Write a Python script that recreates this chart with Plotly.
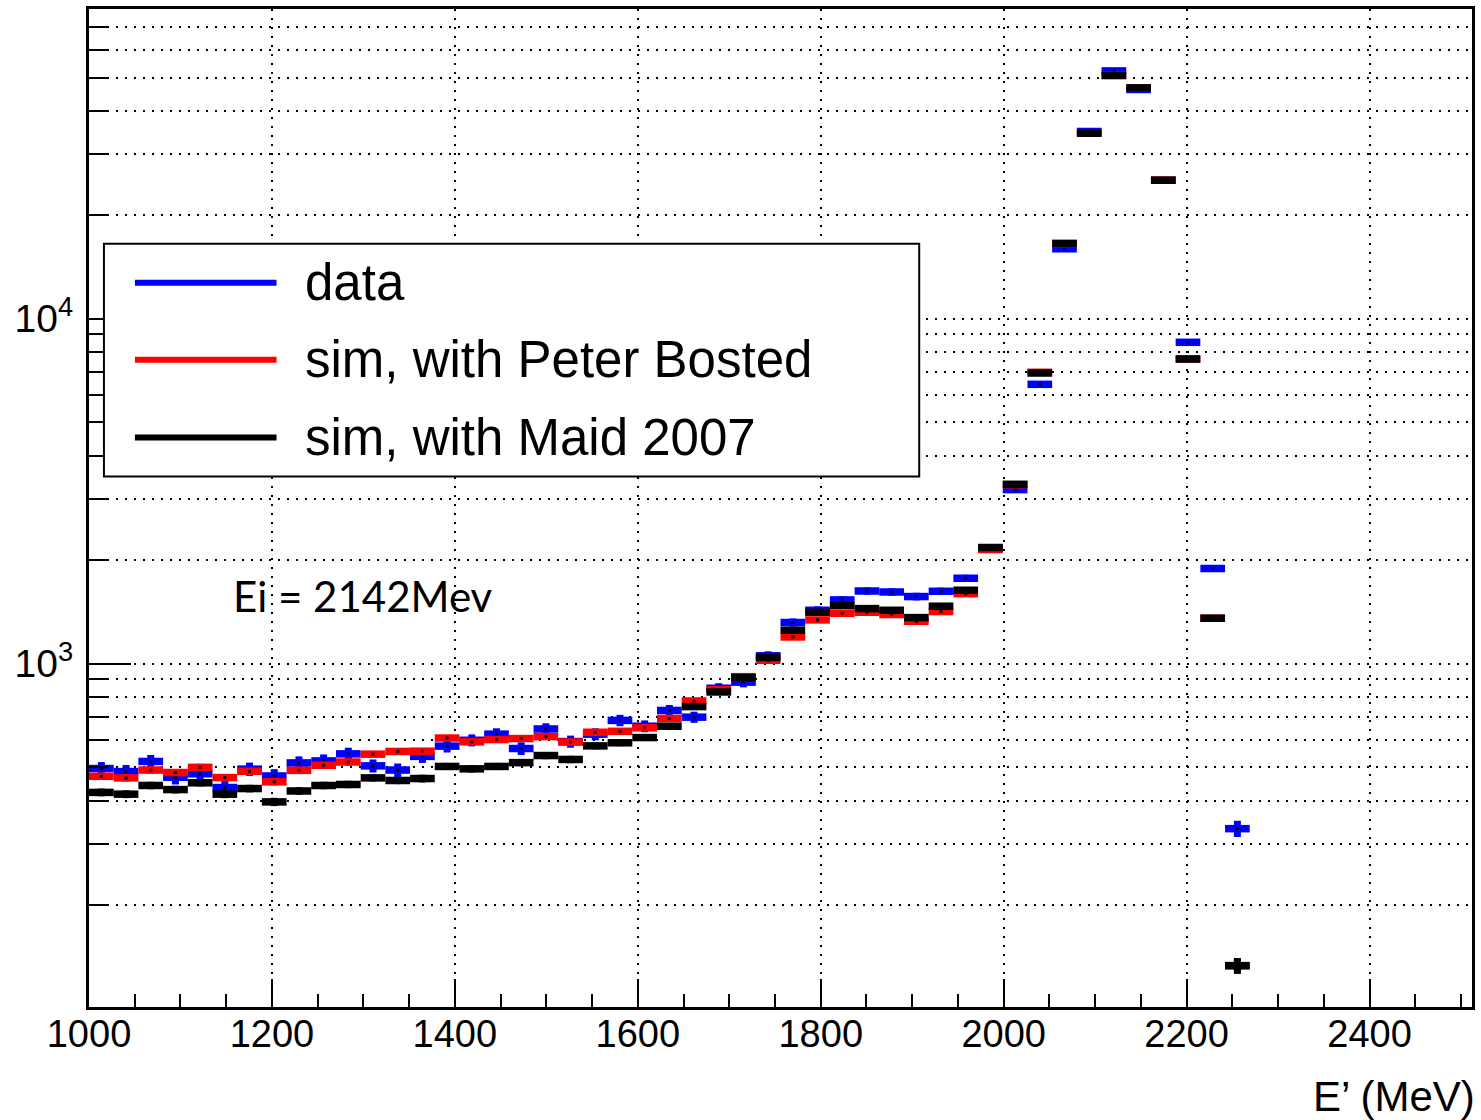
import plotly.graph_objects as go

# Bin centres (MeV), bin width 27 MeV, histogram from 1000 to 2512 MeV
E_centers = [1013.5, 1040.5, 1067.5, 1094.5, 1121.5, 1148.5, 1175.5, 1202.5, 1229.5, 1256.5,
             1283.5, 1310.5, 1337.5, 1364.5, 1391.5, 1418.5, 1445.5, 1472.5, 1499.5, 1526.5,
             1553.5, 1580.5, 1607.5, 1634.5, 1661.5, 1688.5, 1715.5, 1742.5, 1769.5, 1796.5,
             1823.5, 1850.5, 1877.5, 1904.5, 1931.5, 1958.5, 1985.5, 2012.5, 2039.5, 2066.5,
             2093.5, 2120.5, 2147.5, 2174.5, 2201.5, 2228.5, 2255.5]
bin_half_width = 13.5

data_vals = [496, 486, 520, 468, 479, 437, 494, 472, 515, 522,
             547, 505, 491, 538, 576, 599, 624, 567, 646, 594,
             624, 684, 658, 731, 699, 848, 883, 1053, 1315, 1427,
             1529, 1623, 1612, 1564, 1620, 1767, 2160, 3194, 6451, 15950,
             34900, 52300, 46200, 25200, 8540, 1886, 332]
data_err = [22, 22, 23, 22, 22, 21, 22, 22, 23, 23,
            23, 22, 22, 23, 24, 24, 25, 24, 25, 24,
            25, 26, 26, 27, 26, 29, 30, 32, 36, 38,
            39, 40, 40, 40, 40, 42, 46, 57, 80, 126,
            187, 229, 215, 159, 92, 43, 18]

bosted_vals = [471, 466, 491, 483, 500, 467, 487, 454, 490, 507,
               518, 546, 556, 557, 608, 593, 602, 606, 614, 592,
               632, 636, 651, 693, 779, 840, 916, 1022, 1194, 1338,
               1399, 1408, 1387, 1326, 1415, 1595, 2140, 3300, 6990, 16500,
               34500, 50800, 46600, 25200, 7640, 1353, 133]
bosted_err = [11, 11, 12, 11, 12, 11, 12, 11, 12, 12,
              12, 12, 12, 12, 13, 13, 13, 13, 13, 13,
              13, 14, 14, 14, 15, 16, 17, 18, 19, 20,
              20, 21, 20, 20, 21, 22, 25, 31, 46, 70,
              102, 123, 118, 87, 48, 20, 7]

maid_vals = [423, 418, 443, 431, 451, 418, 434, 397, 427, 443,
             446, 466, 458, 464, 503, 495, 503, 516, 541, 527,
             577, 589, 610, 658, 750, 827, 911, 1041, 1249, 1408,
             1473, 1443, 1427, 1359, 1466, 1631, 2170, 3309, 6957, 16530,
             34500, 50700, 46700, 25200, 7640, 1353, 133]
maid_err = [11, 11, 11, 11, 11, 11, 11, 11, 11, 11,
            11, 11, 11, 12, 12, 12, 12, 12, 13, 13,
            13, 13, 14, 14, 15, 16, 17, 18, 19, 21,
            21, 21, 21, 20, 21, 22, 26, 31, 46, 70,
            102, 123, 118, 87, 48, 20, 7]

series_names = ["data", "sim, with Peter Bosted", "sim, with Maid 2007"]
series_colors = ["#0000ff", "#ff0000", "#000000"]
x_tick_vals = [1000, 1200, 1400, 1600, 1800, 2000, 2200, 2400]
y_major_vals = [1000, 10000]
y_major_text = ["10<sup>3</sup>", "10<sup>4</sup>"]
y_minor_vals = [200, 300, 400, 500, 600, 700, 800, 900,
                2000, 3000, 4000, 5000, 6000, 7000, 8000, 9000,
                20000, 30000, 40000, 50000, 60000, 70000]

FONT = "Liberation Sans, Arial, Helvetica, sans-serif"
GRID_DASH = "2px,7px"

fig = go.Figure()
for vals, errs, name, col in zip([data_vals, bosted_vals, maid_vals],
                                 [data_err, bosted_err, maid_err],
                                 series_names, series_colors):
    fig.add_trace(go.Scatter(
        x=E_centers, y=vals, mode="markers", name=name, showlegend=False,
        marker=dict(symbol="square", size=3, color="black", line=dict(width=0)),
        error_x=dict(type="constant", value=bin_half_width, color=col, thickness=7.5, width=0),
        error_y=dict(type="data", array=errs, color=col, thickness=7, width=0),
    ))

fig.update_layout(
    width=1481, height=1120, autosize=False,
    margin=dict(l=89, r=6, t=8, b=113),
    paper_bgcolor="white", plot_bgcolor="white",
    font=dict(family=FONT, color="black"),
    xaxis=dict(
        range=[1000, 2512], tickmode="array", tickvals=x_tick_vals,
        ticks="inside", ticklen=28, tickwidth=1.5, tickcolor="black",
        showline=True, linewidth=3, linecolor="black", mirror=True,
        showgrid=True, gridcolor="black", gridwidth=2, griddash=GRID_DASH,
        zeroline=False, tickfont=dict(size=38, family=FONT), ticklabelstandoff=-9,
        minor=dict(dtick=50, tick0=1000, ticks="inside", ticklen=13, tickwidth=1.5,
                   tickcolor="black", showgrid=False),
    ),
    yaxis=dict(
        type="log", range=[2.004, 4.898], tickmode="array",
        tickvals=y_major_vals, ticktext=y_major_text,
        ticks="inside", ticklen=42, tickwidth=1.5, tickcolor="black",
        showline=True, linewidth=3, linecolor="black", mirror=True,
        showgrid=True, gridcolor="black", gridwidth=2, griddash=GRID_DASH,
        zeroline=False, tickfont=dict(size=39, family=FONT), ticklabelstandoff=5,
        minor=dict(tickmode="array", tickvals=y_minor_vals, ticks="inside", ticklen=19,
                   tickwidth=1.5, tickcolor="black", showgrid=True, gridcolor="black",
                   gridwidth=2, griddash=GRID_DASH),
    ),
)

# Legend box (drawn manually, ROOT-style)
legend_y = [0.7257, 0.6486, 0.5706]
shapes = [dict(type="rect", xref="paper", yref="paper", x0=0.0108, x1=0.6003, y0=0.5315, y1=0.7648,
               line=dict(color="black", width=2), fillcolor="white", layer="above")]
annotations = []
for yy, name, col in zip(legend_y, series_names, series_colors):
    shapes.append(dict(type="line", xref="paper", yref="paper", x0=0.0332, x1=0.1356, y0=yy, y1=yy,
                       line=dict(color=col, width=6), layer="above"))
    annotations.append(dict(xref="paper", yref="paper", x=0.1545, y=yy, xanchor="left", yanchor="middle",
                            text=name, showarrow=False, font=dict(size=51, family=FONT, color="black")))

annotations.append(dict(xref="paper", yref="paper", x=0.1025, y=0.4114, xanchor="left", yanchor="middle",
                        text="Ei = 2142Mev", showarrow=False, font=dict(size=42, family="Lato", color="black")))
annotations.append(dict(xref="paper", yref="paper", x=1.0, y=-0.09, xanchor="right", yanchor="middle",
                        xshift=5, text="E’ (MeV)", showarrow=False,
                        font=dict(size=42, family=FONT, color="black")))
fig.update_layout(shapes=shapes, annotations=annotations)

fig.write_html("out.html")
